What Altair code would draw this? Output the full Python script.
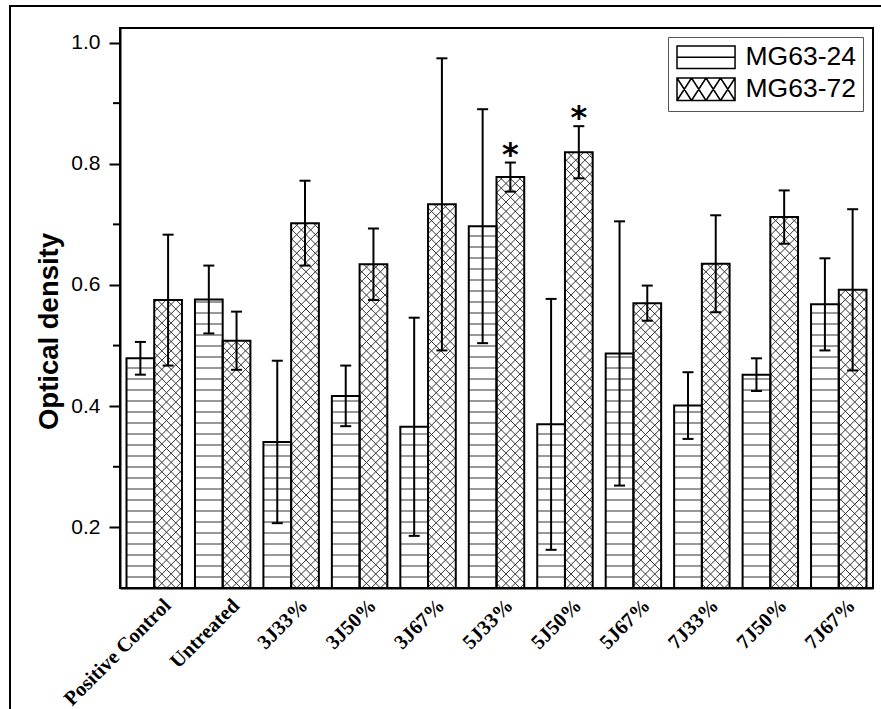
import json
import math
import numpy as np
import pandas as pd
import altair as alt

# ---------------- data ----------------
categories = ["Positive Control", "Untreated", "3J33%", "3J50%", "3J67%",
              "5J33%", "5J50%", "5J67%", "7J33%", "7J50%", "7J67%"]
series = ["MG63-24", "MG63-72"]
mg63_24 = [0.479, 0.576, 0.341, 0.417, 0.366, 0.697, 0.370, 0.487, 0.401, 0.452, 0.568]
mg63_24_err = [0.027, 0.056, 0.134, 0.050, 0.180, 0.193, 0.207, 0.218, 0.055, 0.027, 0.076]
mg63_72 = [0.575, 0.508, 0.702, 0.634, 0.733, 0.778, 0.819, 0.570, 0.635, 0.712, 0.592]
mg63_72_err = [0.108, 0.048, 0.070, 0.059, 0.241, 0.024, 0.043, 0.029, 0.080, 0.044, 0.133]
significant_72 = ["", "", "", "", "", "*", "*", "", "", "", ""]
y_major_ticks = [0.2, 0.4, 0.6, 0.8, 1.0]
y_minor_ticks = [0.3, 0.5, 0.7, 0.9]

# ---------------- layout ----------------
W, H = 753, 560
Y_MIN, Y_MAX = 0.1, 1.024
X_MIN, X_MAX = -0.5, len(categories) - 0.5
HALF = 0.405                     # width of one bar in category units
PX_X = W / (X_MAX - X_MIN)
PX_Y = H / (Y_MAX - Y_MIN)
H_STEP = 11.0                    # px between horizontal hatch lines
D_STEP = 9.3                     # px period of the cross hatch

rows = []
for i, cat in enumerate(categories):
    for s, vals, errs in ((series[0], mg63_24, mg63_24_err), (series[1], mg63_72, mg63_72_err)):
        v, e = vals[i], errs[i]
        x0 = i - HALF if s == series[0] else i
        rows.append(dict(cat=cat, series=s, x0=x0, x1=x0 + HALF, xc=x0 + HALF / 2,
                         v=v, base=Y_MIN, lo=v - e, hi=v + e,
                         star=significant_72[i] if s == series[1] else ""))
bars = pd.DataFrame(rows)

# hatch geometry derived from the bars
hrows, drows = [], []
for r in rows:
    if r["series"] == series[0]:
        k = 1
        while True:
            y = Y_MIN + k * H_STEP / PX_Y
            if y >= r["v"] - 1.5 / PX_Y:
                break
            hrows.append(dict(xa=r["x0"], xb=r["x1"], ya=y, yb=y))
            k += 1
    else:
        X0 = (r["x0"] - X_MIN) * PX_X
        X1 = (r["x1"] - X_MIN) * PX_X
        Y0 = 0.0
        Y1 = (r["v"] - Y_MIN) * PX_Y
        segs = []
        for k in range(math.ceil((Y0 - X1) / D_STEP), math.floor((Y1 - X0) / D_STEP) + 1):
            c = k * D_STEP
            xa, xb = max(X0, Y0 - c), min(X1, Y1 - c)
            if xb - xa > 0.3:
                segs.append((xa, xa + c, xb, xb + c))
        for k in range(math.ceil((X0 + Y0) / D_STEP), math.floor((X1 + Y1) / D_STEP) + 1):
            c = k * D_STEP
            xa, xb = max(X0, c - Y1), min(X1, c - Y0)
            if xb - xa > 0.3:
                segs.append((xa, c - xa, xb, c - xb))
        for (ax, ay, bx, by) in segs:
            drows.append(dict(xa=ax / PX_X + X_MIN, ya=ay / PX_Y + Y_MIN,
                              xb=bx / PX_X + X_MIN, yb=by / PX_Y + Y_MIN))
hatch_h = pd.DataFrame(hrows)
hatch_d = pd.DataFrame(drows)
minor = pd.DataFrame({"t": y_minor_ticks})

XS = alt.Scale(domain=[X_MIN, X_MAX], nice=False, zero=False)
YS = alt.Scale(domain=[Y_MIN, Y_MAX], nice=False, zero=False)

label_expr = json.dumps(categories) + "[round(datum.value)]"

XA = alt.Axis(values=list(range(len(categories))), labelExpr=label_expr,
              labelAngle=-45, labelAlign="right", labelBaseline="top",
              labelFont="Liberation Serif", labelFontWeight="bold",
              labelFontSize=20.5, labelColor="black", labelPadding=7,
              labelOffset=6, labelOverlap=False, labelFlush=False,
              ticks=False, tickSize=0, grid=False, domainColor="black",
              domainWidth=2, title=None)
YA = alt.Axis(values=y_major_ticks, format=".1f", tickSize=11, tickWidth=2,
              tickColor="black", labelFont="Liberation Sans", labelFontSize=21,
              labelColor="black", labelPadding=9, domainColor="black",
              domainWidth=2, grid=False, title="Optical density",
              titleFont="Liberation Sans", titleFontSize=27.5,
              titleFontWeight="bold", titleColor="black", titleX=-63,
              titleY=303, titleBaseline="alphabetic", titleAlign="center")


def xq(f):
    return alt.X(f"{f}:Q", scale=XS, axis=XA)


def yq(f):
    return alt.Y(f"{f}:Q", scale=YS, axis=YA)


# legend swatch paths (unit = sqrt(size)/2 px)
SYM_SIZE = 22.5 ** 2
path_h = "M-1,-1H4.16V1H-1Z M-1,0H4.16"
path_x = "M-1,-1H4.16V1H-1Z"
for k in range(4):
    a = -1 + k * 1.29
    path_x += f" M{a:.2f},-1L{a + 1.29:.2f},1 M{a + 1.29:.2f},-1L{a:.2f},1"

frame = alt.Chart(pd.DataFrame({"a": [0]})).mark_rect(
    fillOpacity=0, stroke="black", strokeWidth=2
).encode(x=alt.value(-110), y=alt.value(-22), x2=alt.value(820), y2=alt.value(700))

fill_layer = alt.Chart(bars).mark_rect(fill="white", strokeWidth=0).encode(
    x=xq("x0"), x2="x1:Q", y=yq("v"), y2="base:Q")

h_layer = alt.Chart(hatch_h).mark_rule(color="#333333", strokeWidth=1).encode(
    x=xq("xa"), x2="xb:Q", y=yq("ya"), y2="yb:Q")
d_layer = alt.Chart(hatch_d).mark_rule(color="#333333", strokeWidth=1).encode(
    x=xq("xa"), x2="xb:Q", y=yq("ya"), y2="yb:Q")

outline = alt.Chart(bars).mark_rect(fillOpacity=0, stroke="black", strokeWidth=2).encode(
    x=xq("x0"), x2="x1:Q", y=yq("v"), y2="base:Q")

err_rule = alt.Chart(bars).mark_rule(color="black", strokeWidth=2).encode(
    x=xq("xc"), y=yq("lo"), y2="hi:Q")
cap_hi = alt.Chart(bars).mark_tick(orient="horizontal", size=11, thickness=2,
                                   color="black", opacity=1).encode(x=xq("xc"), y=yq("hi"))
cap_lo = alt.Chart(bars).mark_tick(orient="horizontal", size=11, thickness=2,
                                   color="black", opacity=1).encode(x=xq("xc"), y=yq("lo"))

stars = alt.Chart(bars).mark_text(font="DejaVu Sans", fontSize=32, fontWeight="bold",
                                  color="black", baseline="alphabetic", dy=2).encode(
    x=xq("xc"), y=yq("hi"), text="star:N")

legend_pts = alt.Chart(bars).mark_point(size=SYM_SIZE, opacity=0, filled=False,
                                        color="black", strokeWidth=1.5).encode(
    x=xq("xc"), y=yq("v"),
    shape=alt.Shape("series:N",
                    scale=alt.Scale(domain=series, range=[path_h, path_x]),
                    legend=alt.Legend(title=None, orient="none", legendX=548, legendY=9,
                                      symbolSize=SYM_SIZE, symbolOpacity=1,
                                      symbolStrokeWidth=1.5, symbolStrokeColor="black",
                                      symbolFillColor="white",
                                      labelFont="Liberation Sans", labelFontSize=26.5,
                                      labelColor="black", labelOffset=44,
                                      labelLimit=300, rowPadding=3, padding=7,
                                      strokeColor="#555555", fillColor="white",
                                      cornerRadius=0)))

minor_ticks = alt.Chart(minor).mark_rule(color="black", strokeWidth=2).encode(
    x=alt.value(-7), x2=alt.value(0), y=yq("t"))

chart = alt.layer(frame, fill_layer, h_layer, d_layer, outline, err_rule, cap_hi, cap_lo,
                  stars, legend_pts, minor_ticks).properties(
    width=W, height=H,
    autosize=alt.AutoSizeParams(type="none"),
    padding={"left": 120, "top": 28, "right": 8, "bottom": 121},
    background="white",
).configure_view(stroke="black", strokeWidth=2)

chart.save("out.html", embed_options={"renderer": "svg", "actions": False})
